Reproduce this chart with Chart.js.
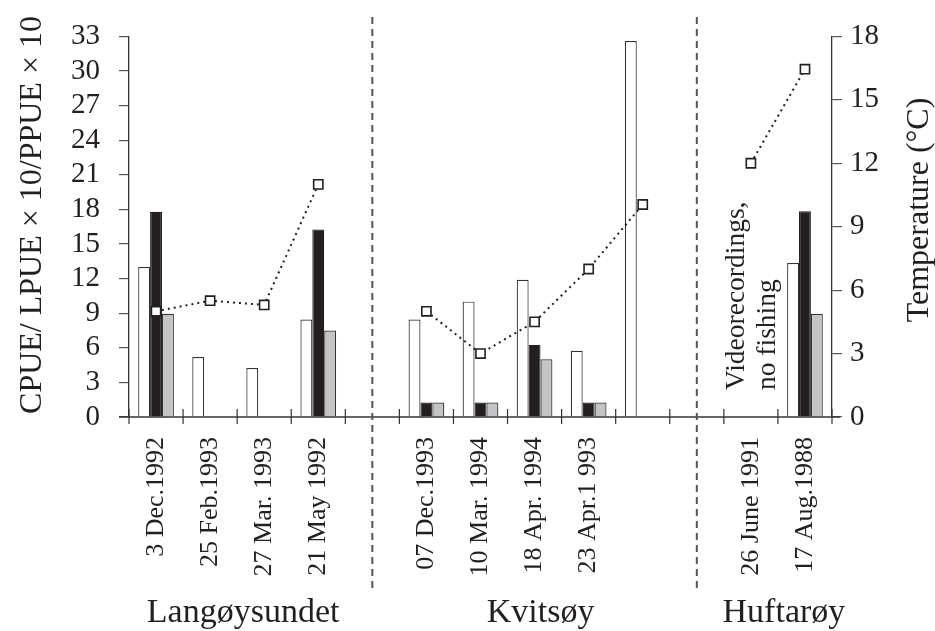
<!DOCTYPE html>
<html>
<head>
<meta charset="utf-8">
<script src="https://cdn.jsdelivr.net/npm/chart.js@4.4.0/dist/chart.umd.min.js"></script>
<style>
  html, body { margin: 0; padding: 0; background: #fff; }
  #wrap { width: 935px; height: 631px; position: relative; }
</style>
</head>
<body>
<div id="wrap"><canvas id="chart"></canvas></div>
<script>
// 数据
const categories = ['3 Dec.1992', '25 Feb.1993', '27 Mar. 1993', '21 May 1992', '',
    '07 Dec.1993', '10 Mar. 1994', '18 Apr. 1994', '23 Apr.1 993', '', '',
    '26 June 1991', '17 Aug.1988'];
const cpue = [13, 5.2, 4.25, 8.45, null, 8.45, 10, 11.9, 5.75, 32.6, null, null, 13.35];
const lpue10 = [17.8, null, null, 16.25, null, 1.25, 1.25, 6.25, 1.25, null, null, null, 17.85];
const ppue10 = [8.95, null, null, 7.5, null, 1.25, 1.25, 5, 1.25, null, null, null, 8.95];
const temperature = [5, 5.5, 5.3, 11, null, 5, 3, 4.5, 7, 10.05, null, 12, 16.45];
const groupNames = ['Langøysundet', 'Kvitsøy', 'Huftarøy'];
const groupSpans = [[0, 3], [5, 9], [11, 12]];
const dividers = [4, 10];
const noteLines = ['Videorecordings,', 'no fishing'];
const noteIndex = 11;
const leftTitle = 'CPUE/ LPUE × 10/PPUE × 10';
const rightTitle = 'Temperature (°C)';

const FONT = '"Liberation Serif", "Times New Roman", serif';
const INK = '#231f20';

// 竖排文字
function vText(ctx, text, x, y) {
    ctx.save();
    ctx.translate(x, y);
    ctx.rotate(-Math.PI / 2);
    ctx.fillText(text, 0, 0);
    ctx.restore();
}

// 额外绘制：x轴线、刻度、分隔虚线、分组标签、注释、轴标题
const extras = {
    id: 'extras',
    afterDraw(chart) {
        const ctx = chart.ctx;
        const x = chart.scales.x;
        const area = chart.chartArea;
        const n = categories.length;
        ctx.save();

        // x 轴线
        ctx.strokeStyle = '#333';
        ctx.lineWidth = 1.3;
        ctx.beginPath();
        ctx.moveTo(area.left - 10, area.bottom);
        ctx.lineTo(area.right + 8, area.bottom);
        ctx.stroke();

        // 类别边界刻度
        ctx.lineWidth = 1.2;
        for (let i = 0; i <= n; i++) {
            let px;
            if (i === 0) px = area.left;
            else if (i === n) px = area.right;
            else px = (x.getPixelForValue(i - 1) + x.getPixelForValue(i)) / 2;
            ctx.beginPath();
            ctx.moveTo(px, area.bottom - 8);
            ctx.lineTo(px, area.bottom + 7);
            ctx.stroke();
        }

        // 分隔虚线
        ctx.strokeStyle = '#555';
        ctx.lineWidth = 2;
        ctx.setLineDash([7, 5]);
        dividers.forEach(i => {
            const px = x.getPixelForValue(i);
            ctx.beginPath();
            ctx.moveTo(px, 17);
            ctx.lineTo(px, 593);
            ctx.stroke();
        });
        ctx.setLineDash([]);

        // 分组标签
        ctx.fillStyle = INK;
        ctx.font = '34px ' + FONT;
        ctx.textAlign = 'center';
        ctx.textBaseline = 'alphabetic';
        groupNames.forEach((name, k) => {
            const [a, b] = groupSpans[k];
            const cx = (x.getPixelForValue(a) + x.getPixelForValue(b)) / 2 + 6;
            ctx.fillText(name, cx, 622);
        });

        // 注释文字（竖排）
        const nx = x.getPixelForValue(noteIndex);
        ctx.font = '27.5px ' + FONT;
        ctx.textAlign = 'left';
        ctx.textBaseline = 'middle';
        noteLines.forEach((line, k) => vText(ctx, line, nx - 14 + k * 31, 390));

        // 轴标题（自下而上）
        ctx.font = '32px ' + FONT;
        ctx.textAlign = 'center';
        vText(ctx, leftTitle, 33, 215);
        vText(ctx, rightTitle, 920, 210);

        ctx.restore();
    }
};

const ctx = document.getElementById('chart');
new Chart(ctx, {
    data: {
        labels: categories,
        datasets: [
            {
                type: 'line',
                label: 'Temperature',
                data: temperature,
                yAxisID: 'y1',
                order: 0,
                borderColor: INK,
                borderWidth: 2,
                borderDash: [2, 4],
                pointStyle: 'rect',
                pointRadius: 6.5,
                pointBorderWidth: 1.6,
                pointBackgroundColor: '#fff',
                pointBorderColor: INK,
                spanGaps: false,
                tension: 0
            },
            {
                type: 'bar',
                label: 'CPUE',
                data: cpue,
                yAxisID: 'y',
                order: 1,
                backgroundColor: '#fff',
                borderColor: '#333',
                borderWidth: 1.2
            },
            {
                type: 'bar',
                label: 'LPUE×10',
                data: lpue10,
                yAxisID: 'y',
                order: 1,
                backgroundColor: INK,
                borderColor: INK,
                borderWidth: 1.2
            },
            {
                type: 'bar',
                label: 'PPUE×10',
                data: ppue10,
                yAxisID: 'y',
                order: 1,
                backgroundColor: '#c4c4c6',
                borderColor: '#333',
                borderWidth: 1.2
            }
        ]
    },
    options: {
        responsive: true,
        maintainAspectRatio: false,
        animation: false,
        datasets: {
            bar: { categoryPercentage: 0.66, barPercentage: 1 }
        },
        layout: { padding: { top: 23, left: 0, right: 0, bottom: 0 } },
        plugins: {
            legend: { display: false },
            tooltip: { enabled: false }
        },
        scales: {
            x: {
                type: 'category',
                offset: true,
                grid: { display: false, drawTicks: false },
                border: { display: false },
                ticks: {
                    autoSkip: false,
                    minRotation: 90,
                    maxRotation: 90,
                    padding: 20,
                    color: INK,
                    font: { family: FONT, size: 26 }
                },
                afterFit(scale) { scale.height = 214; }
            },
            y: {
                position: 'left',
                min: 0,
                max: 33,
                ticks: {
                    stepSize: 3,
                    autoSkip: false,
                    padding: 19,
                    color: INK,
                    font: { family: FONT, size: 29 }
                },
                grid: { drawOnChartArea: false, tickLength: 10, color: '#555', lineWidth: 1.2 },
                border: { color: '#333', width: 1.3 },
                afterFit(scale) { scale.width = 129; }
            },
            y1: {
                position: 'right',
                min: 0,
                max: 18,
                ticks: {
                    stepSize: 3,
                    autoSkip: false,
                    padding: 8,
                    color: INK,
                    font: { family: FONT, size: 29 }
                },
                grid: { drawOnChartArea: false, tickLength: 10, color: '#555', lineWidth: 1.2 },
                border: { color: '#333', width: 1.3 },
                afterFit(scale) { scale.width = 103; }
            }
        }
    },
    plugins: [extras]
});
</script>
</body>
</html>
